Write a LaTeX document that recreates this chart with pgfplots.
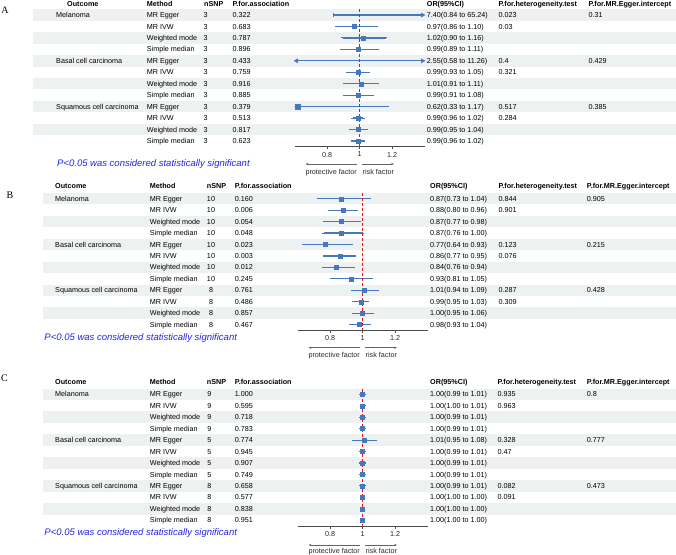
\documentclass[border=0pt]{standalone}
\usepackage{fontspec}
\setmainfont{Liberation Sans}
\newfontfamily\letterfont{Liberation Serif}
\usepackage{pgfplots}
\pgfplotsset{compat=1.18}
\usepackage{pgfplotstable}
\usetikzlibrary{arrows.meta}
\definecolor{cib}{RGB}{70,120,190}
\definecolor{band}{RGB}{238,241,241}
\definecolor{sigblue}{RGB}{35,35,235}
\definecolor{arrgray}{RGB}{100,100,100}
\definecolor{refred}{RGB}{235,20,20}
\newcommand\tf{\fontsize{7.2bp}{8.6bp}\selectfont}

% ---------- forest data (row, OR, lower, upper) ----------
\pgfplotstableread{
row or lo hi
2 0.97 0.86 1.10
3 1.02 0.90 1.16
4 0.99 0.89 1.11
6 0.99 0.93 1.05
7 1.01 0.91 1.11
8 0.99 0.91 1.08
10 0.99 0.96 1.02
11 0.99 0.95 1.04
12 0.99 0.96 1.02
}\dataA
\pgfplotstableread{
row or lo hi
9 0.62 0.33 1.17
}\dataAbig
\pgfplotstableread{
row or lo hi
1 0.87 0.73 1.04
2 0.88 0.80 0.96
3 0.87 0.77 0.98
4 0.87 0.76 1.00
5 0.77 0.64 0.93
6 0.86 0.77 0.95
7 0.84 0.76 0.94
8 0.93 0.81 1.05
9 1.01 0.94 1.09
10 0.99 0.95 1.03
11 1.00 0.95 1.06
12 0.98 0.93 1.04
}\dataB
\pgfplotstableread{
row or lo hi
1 1.00 0.99 1.01
2 1.00 1.00 1.01
3 1.00 0.99 1.01
4 1.00 0.99 1.01
5 1.01 0.95 1.08
6 1.00 0.99 1.01
7 1.00 0.99 1.01
8 1.00 0.99 1.01
9 1.00 0.99 1.01
10 1.00 1.00 1.00
11 1.00 1.00 1.00
12 1.00 1.00 1.00
}\dataC

\pgfplotsset{forestax/.style={
  scale only axis, width=130bp, height=137.4bp, anchor=north west,
  xmin=0.6, xmax=1.4, ymin=0.5, ymax=12.5, y dir=reverse,
  axis x line=bottom, axis y line=none,
  x axis line style={-, draw=black!70, line width=0.5bp},
  xtick={0.8,1,1.2}, xticklabels={0.8,1,1.2},
  tick align=outside, major tick length=2.5bp,
  tick style={draw=black!70, line width=0.5bp},
  xticklabel style={font=\tf, text=black!85, inner sep=2.6bp},
  ytick=\empty, clip=true},
  cistyle/.style={cib, only marks, mark=square*, mark size=#1,
  mark options={cib},
  error bars/.cd, x dir=both, x explicit,
  error bar style={cib, line width=1.2bp},
  error mark options={cib, mark size=1.9bp, line width=1.1bp}},
  cistyle/.default=2bp,
  refline/.style={draw=refred, mark=none, solid, line width=1.1bp, dash pattern=on 3bp off 2bp},
  longci/.style={draw=cib, mark=none, solid, line width=1.2bp}
}

\newcommand\tablerows[9]{%
  \foreach \oc/\m/\n/\p/\orv/\h/\e [count=\i] in {#9}{%
    \pgfmathsetmacro\yy{#1+(\i-1)*11.45+2.6}
    \node[tnode] at (#2,\yy) {\oc};
    \node[tnode] at (#3,\yy) {\m};
    \node[tnode,anchor=base] at (#4,\yy) {\n};
    \node[tnode] at (#5,\yy) {\p};
    \node[tnode] at (#6,\yy) {\orv};
    \node[tnode] at (#7,\yy) {\h};
    \node[tnode] at (#8,\yy) {\e};
  }}
\newcommand\bands[2]{%
  \foreach \k in {0,2,4,6,8,10}{%
    \fill[band] (#2,{#1+\k*11.45-5.725}) rectangle (676,{#1+\k*11.45+5.725});
  }}
\newcommand\headers[8]{%
  \node[hnode] at (#2,#1+2.6) {Outcome};
  \node[hnode] at (#3,#1+2.6) {Method};
  \node[hnode] at (#4,#1+2.6) {nSNP};
  \node[hnode] at (#5,#1+2.6) {P.for.association};
  \node[hnode] at (#6,#1+2.6) {OR(95\%CI)};
  \node[hnode] at (#7,#1+2.6) {P.for.heterogeneity.test};
  \node[hnode] at (#8,#1+2.6) {P.for.MR.Egger.intercept};
}
\newcommand\dirarrows[3]{%
  \draw[arrgray, line width=0.45bp, -{Stealth[length=2.8bp,width=2.2bp]}] ({#1-2.5},#2) -- ({#1-54},#2);
  \draw[arrgray, line width=0.45bp, -{Stealth[length=2.8bp,width=2.2bp]}] ({#1+2.5},#2) -- ({#1+34.5},#2);
  \node[tnode, anchor=base east, text=black!85] at ({#1-2.5},#3+2.6) {protective factor};
  \node[tnode, text=black!85] at ({#1+3},#3+2.6) {risk factor};
}

\begin{document}
\begin{tikzpicture}[x=1bp,y=-1bp,
  tnode/.style={anchor=base west, inner sep=0pt, font=\tf},
  hnode/.style={anchor=base west, inner sep=0pt, font=\tf\bfseries}]
\path[use as bounding box] (0,0) rectangle (676,555);

% empty helper axis (draws nothing)
\begin{axis}[hide axis, scale only axis, width=10bp, height=10bp, xmin=0, xmax=1, ymin=0, ymax=1, at={(300bp,-500bp)}]
\end{axis}

% =================== Panel A ===================
\bands{15}{33}
\node[font=\letterfont\fontsize{10bp}{12bp}\selectfont, anchor=base, inner sep=0pt] at (5,13.3) {A};
\headers{4}{67}{146.7}{204}{232.3}{426.7}{498.3}{588.3}
\tablerows{15}{56}{146.7}{205.7}{232.3}{426.7}{498.3}{588.3}{
Melanoma/MR Egger/3/0.322/7.40(0.84 to 65.24)/0.023/0.31,
{}/MR IVW/3/0.683/0.97(0.86 to 1.10)/0.03/{},
{}/Weighted mode/3/0.787/1.02(0.90 to 1.16)/{}/{},
{}/Simple median/3/0.896/0.99(0.89 to 1.11)/{}/{},
Basal cell carcinoma/MR Egger/3/0.433/2.55(0.58 to 11.26)/0.4/0.429,
{}/MR IVW/3/0.759/0.99(0.93 to 1.05)/0.321/{},
{}/Weighted mode/3/0.916/1.01(0.91 to 1.11)/{}/{},
{}/Simple median/3/0.885/0.99(0.91 to 1.08)/{}/{},
Squamous cell carcinoma/MR Egger/3/0.379/0.62(0.33 to 1.17)/0.517/0.385,
{}/MR IVW/3/0.513/0.99(0.96 to 1.02)/0.284/{},
{}/Weighted mode/3/0.817/0.99(0.95 to 1.04)/{}/{},
{}/Simple median/3/0.623/0.99(0.96 to 1.02)/{}/{}}
\node[anchor=base west, inner sep=0pt, text=sigblue, font=\fontsize{9.5bp}{11bp}\selectfont\itshape] at (57,166.4) {P<0.05 was considered statistically significant};
\begin{axis}[forestax, at={(294.5bp,-9.3bp)}]
% intervals running beyond the axis (OR 7.40: 0.84-65.24; OR 2.55: 0.58-11.26)
\addplot[longci] coordinates {(0.84,1) (1.39,1)};
\addplot[longci, line width=1.1bp] coordinates {(0.84,0.83) (0.84,1.17)};
\addplot[longci] coordinates {(0.61,5) (1.39,5)};
\addplot[cistyle] table[x=or, y=row, x error plus expr=\thisrow{hi}-\thisrow{or}, x error minus expr=\thisrow{or}-\thisrow{lo}] {\dataA};
\addplot[cistyle=2.7bp] table[x=or, y=row, x error plus expr=\thisrow{hi}-\thisrow{or}, x error minus expr=\thisrow{or}-\thisrow{lo}] {\dataAbig};
\addplot[only marks, mark=triangle*, mark size=2.3bp, mark options={cib, fill=cib, rotate=-90}] coordinates {(1.388,1) (1.388,5)};
\addplot[only marks, mark=triangle*, mark size=2.3bp, mark options={cib, fill=cib, rotate=90}] coordinates {(0.612,5)};
\addplot[refline] coordinates {(1,0.5) (1,12.5)};
\end{axis}
\dirarrows{359.5}{164}{172}

% =================== Panel B ===================
\bands{198.7}{42.7}
\node[font=\letterfont\fontsize{10bp}{12bp}\selectfont, anchor=base, inner sep=0pt] at (10,198.3) {B};
\headers{186}{55}{149.7}{206.7}{234.7}{430}{498.3}{586.7}
\tablerows{198.7}{55}{149.7}{211}{234.7}{430}{498.3}{586.7}{
Melanoma/MR Egger/10/0.160/0.87(0.73 to 1.04)/0.844/0.905,
{}/MR IVW/10/0.006/0.88(0.80 to 0.96)/0.901/{},
{}/Weighted mode/10/0.054/0.87(0.77 to 0.98)/{}/{},
{}/Simple median/10/0.048/0.87(0.76 to 1.00)/{}/{},
Basal cell carcinoma/MR Egger/10/0.023/0.77(0.64 to 0.93)/0.123/0.215,
{}/MR IVW/10/0.003/0.86(0.77 to 0.95)/0.076/{},
{}/Weighted mode/10/0.012/0.84(0.76 to 0.94)/{}/{},
{}/Simple median/10/0.245/0.93(0.81 to 1.05)/{}/{},
Squamous cell carcinoma/MR Egger/8/0.761/1.01(0.94 to 1.09)/0.287/0.428,
{}/MR IVW/8/0.486/0.99(0.95 to 1.03)/0.309/{},
{}/Weighted mode/8/0.857/1.00(0.95 to 1.06)/{}/{},
{}/Simple median/8/0.467/0.98(0.93 to 1.04)/{}/{}}
\node[anchor=base west, inner sep=0pt, text=sigblue, font=\fontsize{9.5bp}{11bp}\selectfont\itshape] at (44.3,340.1) {P<0.05 was considered statistically significant};
\begin{axis}[forestax, at={(297.5bp,-193.0bp)}]
\addplot[cistyle] table[x=or, y=row, x error plus expr=\thisrow{hi}-\thisrow{or}, x error minus expr=\thisrow{or}-\thisrow{lo}] {\dataB};
\addplot[refline] coordinates {(1,0.5) (1,12.5)};
\end{axis}
\dirarrows{362.5}{347.7}{355}

% =================== Panel C ===================
\bands{394.3}{42.7}
\node[font=\letterfont\fontsize{10bp}{12bp}\selectfont, anchor=base, inner sep=0pt] at (4.5,381.6) {C};
\headers{381.7}{55}{149.7}{206.7}{234.7}{430}{497.3}{586.7}
\tablerows{394.3}{55}{149.7}{209.3}{234.7}{430}{497.3}{586.7}{
Melanoma/MR Egger/9/1.000/1.00(0.99 to 1.01)/0.935/0.8,
{}/MR IVW/9/0.595/1.00(1.00 to 1.01)/0.963/{},
{}/Weighted mode/9/0.718/1.00(0.99 to 1.01)/{}/{},
{}/Simple median/9/0.783/1.00(0.99 to 1.01)/{}/{},
Basal cell carcinoma/MR Egger/5/0.774/1.01(0.95 to 1.08)/0.328/0.777,
{}/MR IVW/5/0.945/1.00(0.99 to 1.01)/0.47/{},
{}/Weighted mode/5/0.907/1.00(0.99 to 1.01)/{}/{},
{}/Simple median/5/0.749/1.00(0.99 to 1.01)/{}/{},
Squamous cell carcinoma/MR Egger/8/0.658/1.00(0.99 to 1.01)/0.082/0.473,
{}/MR IVW/8/0.577/1.00(1.00 to 1.00)/0.091/{},
{}/Weighted mode/8/0.838/1.00(1.00 to 1.00)/{}/{},
{}/Simple median/8/0.951/1.00(1.00 to 1.00)/{}/{}}
\node[anchor=base west, inner sep=0pt, text=sigblue, font=\fontsize{9.5bp}{11bp}\selectfont\itshape] at (44.3,535.1) {P<0.05 was considered statistically significant};
\begin{axis}[forestax, at={(297.5bp,-388.6bp)}]
\addplot[cistyle] table[x=or, y=row, x error plus expr=\thisrow{hi}-\thisrow{or}, x error minus expr=\thisrow{or}-\thisrow{lo}] {\dataC};
\addplot[refline] coordinates {(1,0.5) (1,12.5)};
\end{axis}
\dirarrows{362.5}{545}{550.7}
\end{tikzpicture}
\end{document}
